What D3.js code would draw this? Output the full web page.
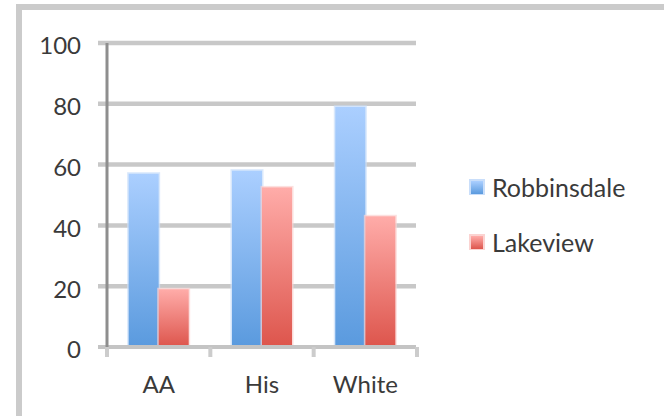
<!DOCTYPE html>
<html>
<head>
<meta charset="utf-8">
<script src="https://cdn.jsdelivr.net/npm/d3@7"></script>
<style>
  html, body { margin: 0; padding: 0; background: #fff; }
  svg { display: block; }
  text { font-family: Lato, "Open Sans", sans-serif; fill: #3a3a3a; }
</style>
</head>
<body>
<svg id="chart" width="664" height="416"></svg>
<script>
// Survey results by group for two districts
const categories = ["AA", "His", "White"];
const robbinsdale = [57, 58, 79];
const lakeview = [19, 52.5, 43];
const seriesNames = ["Robbinsdale", "Lakeview"];
const yTicks = [0, 20, 40, 60, 80, 100];

const svg = d3.select("#chart");
const W = 664, H = 416;

// Chart area frame (runs off the right and bottom edges)
svg.append("rect")
  .attr("x", 19).attr("y", 7)
  .attr("width", W + 20).attr("height", H + 20)
  .attr("fill", "none").attr("stroke", "#cbcbcb").attr("stroke-width", 6);

// Gradients for the bars and legend keys
const defs = svg.append("defs");
const grads = [
  { id: "gBlue", top: "#abcfff", bottom: "#5a9ade" },
  { id: "gRed", top: "#ffaca9", bottom: "#dd554c" }
];
grads.forEach(g => {
  const lg = defs.append("linearGradient").attr("id", g.id)
    .attr("x1", 0).attr("y1", 0).attr("x2", 0).attr("y2", 1);
  lg.append("stop").attr("offset", "0%").attr("stop-color", g.top);
  lg.append("stop").attr("offset", "100%").attr("stop-color", g.bottom);
});

const plot = { left: 107, right: 417, top: 43, bottom: 347 };

const y = d3.scaleLinear().domain([0, 100]).range([plot.bottom, plot.top]);
const x = d3.scaleBand().domain(categories).range([plot.left, plot.right]).padding(0);
const x1 = d3.scaleBand().domain(seriesNames)
  .range([0, x.bandwidth()]).paddingInner(0).paddingOuter(0.72);

// Horizontal gridlines
svg.append("g").selectAll("line").data(yTicks.filter(d => d > 0)).join("line")
  .attr("x1", 98).attr("x2", 416)
  .attr("y1", d => y(d)).attr("y2", d => y(d))
  .attr("stroke", "#c8c8c8").attr("stroke-width", 4.5);

// Y axis labels
const yAxis = d3.axisLeft(y).tickValues(yTicks).tickSize(0).tickPadding(0);
const gy = svg.append("g").attr("transform", "translate(81,0)").call(yAxis);
gy.select(".domain").remove();
gy.selectAll("text")
  .attr("dy", "0.45em")
  .style("font-family", "Lato, 'Open Sans', sans-serif")
  .style("font-size", "24px").attr("fill", "#3a3a3a");

// Bars
const series = [
  { name: "Robbinsdale", values: robbinsdale, fill: "url(#gBlue)", halo: "#c9defa" },
  { name: "Lakeview", values: lakeview, fill: "url(#gRed)", halo: "#fbd3d1" }
];
series.forEach(s => {
  const g = svg.append("g");
  const rows = categories.map((c, i) => ({ c, v: s.values[i] }));
  // soft edge around each bar
  g.selectAll("rect.halo").data(rows).join("rect").attr("class", "halo")
    .attr("x", d => x(d.c) + x1(s.name) - 1.5)
    .attr("y", d => y(d.v) - 1.5)
    .attr("width", x1.bandwidth() + 3)
    .attr("height", d => y(0) - y(d.v) + 1.5)
    .attr("fill", s.halo).attr("opacity", 0.7);
  g.selectAll("rect.bar").data(rows).join("rect").attr("class", "bar")
    .attr("x", d => x(d.c) + x1(s.name))
    .attr("y", d => y(d.v))
    .attr("width", x1.bandwidth())
    .attr("height", d => y(0) - y(d.v))
    .attr("fill", s.fill);
});

// X axis line and ticks
svg.append("line")
  .attr("x1", 98).attr("x2", 416).attr("y1", y(0)).attr("y2", y(0))
  .attr("stroke", "#c4c4c4").attr("stroke-width", 4);
const tickXs = categories.map(c => x(c)).concat([plot.right]);
svg.append("g").selectAll("line").data(tickXs).join("line")
  .attr("x1", d => d).attr("x2", d => d)
  .attr("y1", y(0)).attr("y2", y(0) + 10)
  .attr("stroke", "#cccccc").attr("stroke-width", 4);

// Y axis line
svg.append("line")
  .attr("x1", plot.left).attr("x2", plot.left)
  .attr("y1", y(100)).attr("y2", y(0))
  .attr("stroke", "#8e8e8e").attr("stroke-width", 3);

// Category labels
svg.append("g").selectAll("text").data(categories).join("text")
  .attr("x", d => x(d) + x.bandwidth() / 2)
  .attr("y", 393)
  .attr("text-anchor", "middle")
  .style("font-size", "24px")
  .text(d => d);

// Legend
const legend = svg.append("g");
series.forEach((s, i) => {
  const cy = 187 + i * 55;
  legend.append("rect")
    .attr("x", 469).attr("y", cy - 8).attr("width", 16).attr("height", 16)
    .attr("fill", s.halo);
  legend.append("rect")
    .attr("x", 471).attr("y", cy - 6).attr("width", 12).attr("height", 13)
    .attr("fill", s.fill);
  legend.append("text")
    .attr("x", 492).attr("y", cy + 10)
    .style("font-size", "25px")
    .text(s.name);
});
</script>
</body>
</html>
